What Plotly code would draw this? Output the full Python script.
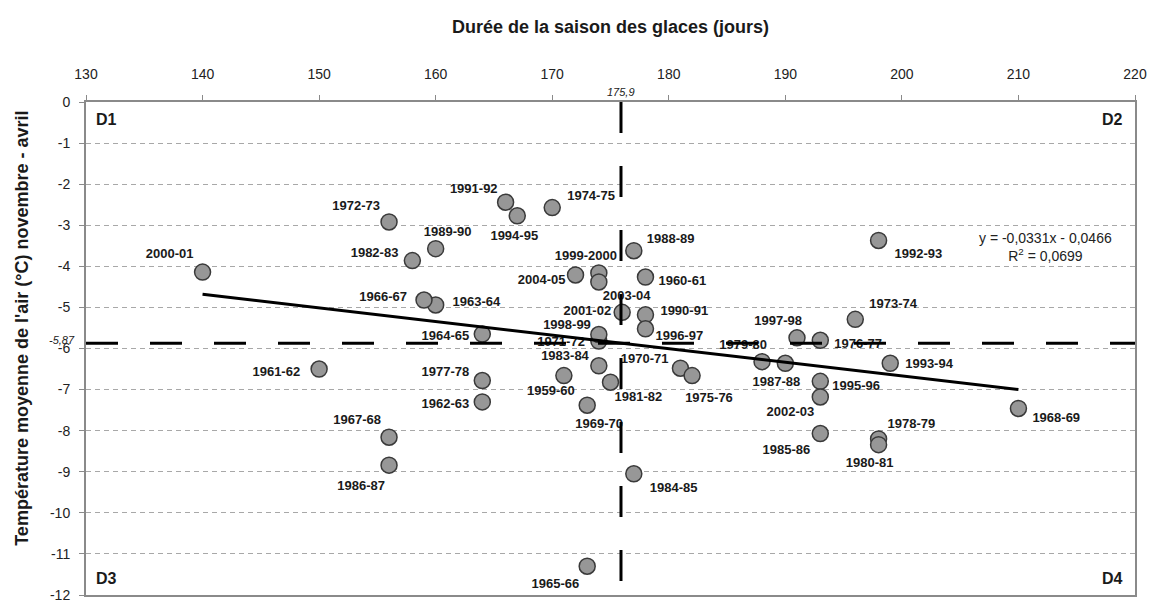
import plotly.graph_objects as go

# Saisons hivernales, durée de la saison des glaces (jours) et température moyenne nov.-avril (°C)
saisons = [
    "1959-60", "1960-61", "1961-62", "1962-63", "1963-64", "1964-65", "1965-66",
    "1966-67", "1967-68", "1968-69", "1969-70", "1970-71", "1971-72", "1972-73",
    "1973-74", "1974-75", "1975-76", "1976-77", "1977-78", "1978-79", "1979-80",
    "1980-81", "1981-82", "1982-83", "1983-84", "1984-85", "1985-86", "1986-87",
    "1987-88", "1988-89", "1989-90", "1990-91", "1991-92", "1992-93", "1993-94",
    "1994-95", "1995-96", "1996-97", "1997-98", "1998-99", "1999-2000", "2000-01",
    "2001-02", "2002-03", "2003-04", "2004-05",
]
duree_glaces = [
    171, 178, 150, 164, 160, 164, 173,
    159, 156, 210, 173, 181, 174, 156,
    196, 170, 182, 193, 164, 198, 188,
    198, 175, 158, 174, 177, 193, 156,
    190, 177, 160, 178, 166, 198, 199,
    167, 193, 178, 191, 174, 174, 140,
    176, 193, 174, 172,
]
temperature = [
    -6.66, -4.26, -6.50, -7.30, -4.94, -5.65, -11.30,
    -4.82, -8.16, -7.46, -7.38, -6.48, -5.82, -2.92,
    -5.29, -2.57, -6.66, -5.80, -6.78, -8.20, -6.32,
    -8.34, -6.82, -3.86, -6.42, -9.05, -8.07, -8.84,
    -6.36, -3.62, -3.57, -5.18, -2.44, -3.37, -6.36,
    -2.77, -6.80, -5.52, -5.74, -5.66, -4.16, -4.14,
    -5.12, -7.18, -4.38, -4.21,
]

# Moyennes des deux variables et droite de régression
moyenne_duree = 175.9
moyenne_temp = -5.87
pente = -0.0331
ordonnee = -0.0466
r2 = 0.0699

x_ticks = [130, 140, 150, 160, 170, 180, 190, 200, 210, 220]
y_ticks = [0, -1, -2, -3, -4, -5, -6, -7, -8, -9, -10, -11, -12]
y_ticktext = ["0", "-1", "-2", "-3", "-4", "-5", "-6", "-7", "-8", "-9", "-10", "-11", "-12"]

# Décalage (px, vers la droite / vers le bas) de chaque étiquette par rapport à son point
decalage_etiquettes = {
    "1959-60": (-13, 16), "1960-61": (37, 5), "1961-62": (-43, 4), "1962-63": (-37, 3),
    "1963-64": (41, -2), "1964-65": (-37, 3), "1965-66": (-32, 19), "1966-67": (-41, -2),
    "1967-68": (-32, -17), "1968-69": (38, 10), "1969-70": (12, 20), "1970-71": (-36, -9),
    "1971-72": (-38, 2), "1972-73": (-33, -15), "1973-74": (38, -15), "1974-75": (39, -11),
    "1975-76": (17, 24), "1976-77": (38, 5), "1977-78": (-37, -8), "1978-79": (33, -14),
    "1979-80": (-19, -16), "1980-81": (-9, 19), "1981-82": (28, 16), "1982-83": (-38, -7),
    "1983-84": (-34, -9), "1984-85": (40, 15), "1985-86": (-34, 17), "1986-87": (-28, 22),
    "1987-88": (-9, 20), "1988-89": (37, -11), "1989-90": (12, -16), "1990-91": (39, -3),
    "1991-92": (-32, -13), "1992-93": (40, 15), "1993-94": (39, 1), "1994-95": (-3, 21),
    "1995-96": (36, 5), "1996-97": (34, 8), "1997-98": (-19, -16), "1998-99": (-32, -9),
    "1999-2000": (-13, -16), "2000-01": (-33, -18), "2001-02": (-35, -1), "2002-03": (-30, 16),
    "2003-04": (28, 15), "2004-05": (-34, 6),
}

police = "Liberation Sans, Arial, sans-serif"
encre = "#1a1a1a"

# Géométrie de la zone de tracé
LARGEUR, HAUTEUR = 1157, 613
MARGES = dict(l=86, r=17, t=102, b=10)
X_MIN, X_MAX = 130, 220
Y_MIN, Y_MAX = -12, 0
px_par_jour = (LARGEUR - MARGES["l"] - MARGES["r"]) / (X_MAX - X_MIN)
px_par_degre = (HAUTEUR - MARGES["t"] - MARGES["b"]) / (Y_MAX - Y_MIN)

fig = go.Figure()

# Nuage de points des saisons
fig.add_trace(go.Scatter(
    x=duree_glaces, y=temperature, mode="markers",
    marker=dict(size=16, color="#979797", line=dict(color="#3a3a3a", width=1.5)),
    hoverinfo="skip", showlegend=False,
))

# Étiquettes des saisons, placées à côté de chaque point
x_etiq = [xv + decalage_etiquettes[s][0] / px_par_jour for s, xv in zip(saisons, duree_glaces)]
y_etiq = [yv - decalage_etiquettes[s][1] / px_par_degre for s, yv in zip(saisons, temperature)]
fig.add_trace(go.Scatter(
    x=x_etiq, y=y_etiq, mode="text", text=[f"<b>{s}</b>" for s in saisons],
    textposition="middle center", textfont=dict(family=police, size=13, color=encre),
    hoverinfo="skip", showlegend=False, cliponaxis=False,
))

# Droite de régression sur l'étendue des durées observées
x_reg = [min(duree_glaces), max(duree_glaces)]
y_reg = [pente * v + ordonnee for v in x_reg]
fig.add_trace(go.Scatter(
    x=x_reg, y=y_reg, mode="lines",
    line=dict(color="black", width=3), hoverinfo="skip", showlegend=False,
))

# Lignes des moyennes (quadrants D1 à D4)
fig.add_shape(type="line", xref="x", yref="y", x0=moyenne_duree, x1=moyenne_duree,
              y0=Y_MAX, y1=Y_MIN, line=dict(color="black", width=3, dash="31px,33px"), layer="above")
fig.add_shape(type="line", xref="x", yref="y", x0=X_MIN, x1=X_MAX,
              y0=moyenne_temp, y1=moyenne_temp,
              line=dict(color="black", width=3, dash="32px,32px"), layer="above")

annotations = []

# Valeurs des moyennes
annotations.append(dict(x=moyenne_duree, y=1, xref="x", yref="paper", yanchor="bottom",
                        yshift=2, text="<i>" + f"{moyenne_duree:.1f}".replace(".", ",") + "</i>",
                        showarrow=False, font=dict(family=police, size=11, color="#222")))
annotations.append(dict(x=0, y=moyenne_temp, xref="paper", yref="y", xanchor="right",
                        xshift=-9, yshift=3,
                        text="<i>" + f"{moyenne_temp:.2f}".replace(".", ",") + "</i>",
                        showarrow=False, font=dict(family=police, size=11, color="#222")))

# Équation de la tendance
eq = (f"y = {pente:.4f}x - {abs(ordonnee):.4f}".replace(".", ",")
      + "<br>R<sup>2</sup> = " + f"{r2:.4f}".replace(".", ","))
annotations.append(dict(x=0.915, y=-3.52, xref="paper", yref="y", xanchor="center",
                        yanchor="middle", text=eq, showarrow=False, align="center",
                        font=dict(family=police, size=14, color="#222")))

# Étiquettes des quadrants
for txt, xp, yp, xa, ya in [("D1", 0.008, 0.985, "left", "top"), ("D2", 0.99, 0.985, "right", "top"),
                            ("D3", 0.008, 0.012, "left", "bottom"), ("D4", 0.99, 0.012, "right", "bottom")]:
    annotations.append(dict(x=xp, y=yp, xref="paper", yref="paper", xanchor=xa, yanchor=ya,
                            text=f"<b>{txt}</b>", showarrow=False,
                            font=dict(family=police, size=16, color=encre)))

# Titres des axes
annotations.append(dict(x=0.5, y=1.152, xref="paper", yref="paper", yanchor="middle",
                        text="<b>Durée de la saison des glaces (jours)</b>", showarrow=False,
                        font=dict(family=police, size=18, color=encre)))
annotations.append(dict(x=-0.061, y=0.54, xref="paper", yref="paper", textangle=-90,
                        xanchor="center", yanchor="middle",
                        text="<b>Température moyenne de l'air (°C) novembre - avril</b>",
                        showarrow=False, font=dict(family=police, size=18, color=encre)))

fig.update_layout(
    width=LARGEUR, height=HAUTEUR,
    margin=MARGES,
    paper_bgcolor="white", plot_bgcolor="white",
    annotations=annotations,
    xaxis=dict(
        side="top", range=[X_MIN, X_MAX], tickvals=x_ticks, showgrid=False, zeroline=False,
        showline=True, linecolor="#8a8a8a", linewidth=2, mirror=True,
        ticks="outside", ticklen=5, tickcolor="#8a8a8a", ticklabelstandoff=10,
        tickfont=dict(family=police, size=14, color="#222"),
    ),
    yaxis=dict(
        range=[Y_MIN, Y_MAX], tickvals=y_ticks, ticktext=y_ticktext, zeroline=False,
        showgrid=True, gridcolor="#a8a8a8", gridwidth=1, griddash="5px,4px",
        showline=True, linecolor="#8a8a8a", linewidth=2, mirror=True,
        ticks="outside", ticklen=5, tickcolor="#8a8a8a", ticklabelstandoff=6,
        tickfont=dict(family=police, size=14, color="#222"),
    ),
)

fig.write_html("out.html")
